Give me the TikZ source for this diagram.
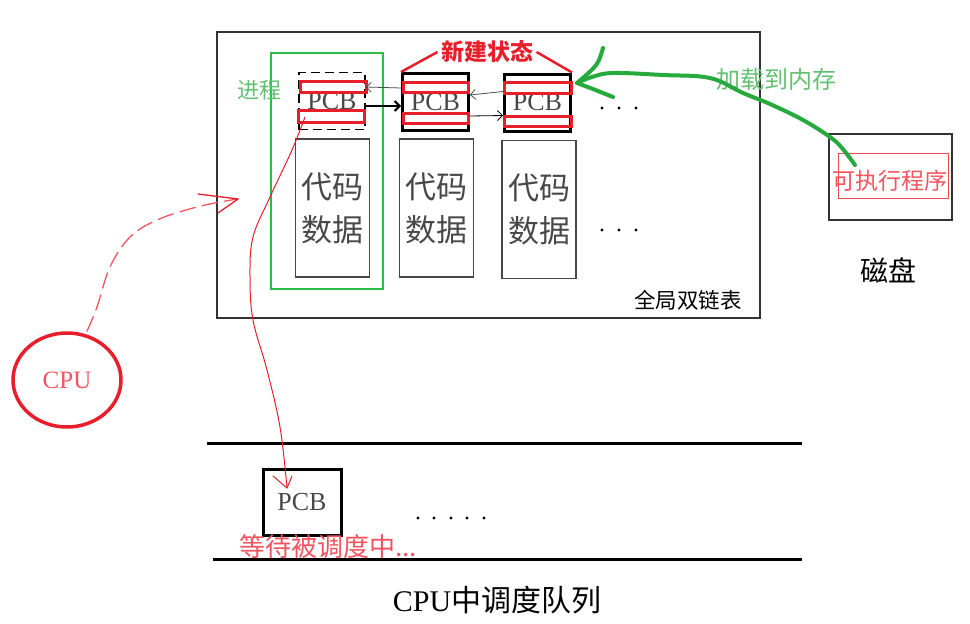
\documentclass[tikz,border=0pt]{standalone}
\usepackage{fontspec}
\setmainfont{Liberation Serif}
\newfontfamily\cjk{Noto Sans CJK SC}
\usetikzlibrary{positioning, calc, arrows.meta, shapes.geometric}
\definecolor{penred}{RGB}{232,30,42}
\definecolor{softred}{RGB}{242,84,96}
\definecolor{pengreen}{RGB}{38,170,62}
\definecolor{framegreen}{RGB}{40,190,70}
\definecolor{softgreen}{RGB}{98,192,112}
\definecolor{inkgray}{RGB}{72,72,72}

\begin{document}
\begin{tikzpicture}[x=1pt, y=-1pt,
  pcbbox/.style={draw=black, line width=3pt, minimum width=66pt, minimum height=57pt, inner sep=0pt, font=\fontsize{26}{26}\selectfont, text=inkgray},
  databox/.style={draw=inkgray, line width=1.2pt, minimum width=74pt, minimum height=138pt, inner sep=0pt, align=center, font=\cjk\fontsize{31}{43}\selectfont, text=inkgray},
  redbar/.style={draw=penred, line width=3pt},
  handred/.style={draw=penred, line width=1pt, line cap=round, line join=round},
  dot/.style={fill=black, circle, inner sep=0pt, minimum size=3.4pt}]
  \useasboundingbox (0,0) rectangle (970,624);

  % memory and the process frame
  \draw[black!80, line width=1.2pt] (217,32) rectangle (760,318);
  \draw[framegreen, line width=1.1pt] (271,53) rectangle (383,289);
  \node[text=softgreen, font=\cjk\fontsize{22}{22}\selectfont] (proc) at (259,90) {进程};
  \node[font=\cjk\fontsize{21.5}{22}\selectfont] (dlist) at (688,300) {全局双链表};

  % PCBs and their code/data
  \node[pcbbox, dashed, line width=1.5pt, dash pattern=on 9pt off 5pt] (pcb1) at (332,101) {PCB};
  \node[pcbbox] (pcb2) at (435.5,102) {PCB};
  \node[pcbbox] (pcb3) at (537.5,102.5) {PCB};
  \node[databox] (data1) at (332.5,208) {代码\\数据};
  \node[databox] (data2) at (436.5,208) {代码\\数据};
  \node[databox] (data3) at (539,209.5) {代码\\数据};
  \draw[redbar] (300,81) rectangle (366,92) (298,110) rectangle (364,122);
  \draw[redbar] (403,82) rectangle (468,92) (403,113) rectangle (468,123);
  \draw[redbar] (504,82) rectangle (571,93) (504,116) rectangle (571,126);

  % links between the PCBs
  \draw[-{Straight Barb[length=5pt]}, black!70, line width=0.8pt] ([yshift=14pt]pcb2.west) -- ([yshift=14pt]pcb1.east);
  \draw[-{Straight Barb[length=5pt]}, black, line width=2pt] ([yshift=-5pt]pcb1.east) -- ([yshift=-4pt]pcb2.west);
  \draw[-{Straight Barb[length=5pt]}, black!70, line width=0.8pt] ([yshift=11pt]pcb3.west) -- ([yshift=7pt]pcb2.east);
  \draw[-{Straight Barb[length=5pt]}, black, line width=0.8pt] ([yshift=-14pt]pcb2.east) -- ([yshift=-13pt]pcb3.west);

  \node[text=penred, font=\cjk\bfseries\fontsize{23}{23}\selectfont] (newstate) at (487,52) {新建状态};
  \draw[penred, line width=2.5pt] (newstate.west) -- (pcb2.north west);
  \draw[penred, line width=2.5pt] (newstate.east) -- (pcb3.north east);

  \foreach \x in {602,619,636}{
    \node[dot] at (\x,108) {};
    \node[dot] at (\x,230) {};
  }

  % disk
  \draw[black!80, line width=1.2pt] (829,134) rectangle (952,220);
  \draw[penred!80, line width=0.8pt] (838,153) rectangle (948,198);
  \node[text=softred, font=\cjk\fontsize{23}{23}\selectfont] (exe) at (890,181) {可执行程序};
  \node[font=\cjk\fontsize{28}{28}\selectfont] (disk) at (888,270) {磁盘};
  \node[text=softgreen, font=\cjk\fontsize{24}{24}\selectfont] (load) at (776,79) {加载到内存};

  % load arrow
  \coordinate (gtail) at (855,165);
  \coordinate (gtip) at (577,83);
  \draw[pengreen, line width=4pt, line cap=round, line join=round]
    plot[smooth, tension=0.6] coordinates {(gtail) (842,148) (830,137) (803,120) (770,104) (743,93) (710,78) (663,75) (613,73) (592,77) (gtip)};
  \draw[pengreen, line width=4pt, line cap=round, line join=round]
    (603,48) .. controls (598,65) .. (gtip) -- (593,89) .. controls (603,93) .. (613,97);

  % CPU
  \node[draw=penred, ellipse, line width=3.5pt, minimum width=108pt, minimum height=94pt, text=softred, font=\fontsize{25}{25}\selectfont] (cpu) at (67,380) {CPU};
  \coordinate (ctip) at (238,199);
  \draw[handred, softred, line width=1.3pt, dash pattern=on 16pt off 7pt]
    plot[smooth, tension=0.6] coordinates {([xshift=20pt]cpu.north) (97,307) (110,267) (130,237) (157,220) (193,208) (220,202) (ctip)};
  \draw[handred, line width=1.3pt] (198,194) -- (ctip) -- (218,213);

  % run queue
  \draw[black, line width=3pt] (207,443) -- (802,443);
  \draw[black, line width=3pt] (213,559) -- (802,559);
  \node[pcbbox, minimum width=78pt, minimum height=66pt] (qpcb) at (302,502) {PCB};
  \foreach \x in {418,434,451,467,484}{
    \node[dot] at (\x,518) {};
  }
  \node[text=softred, font=\cjk\fontsize{26}{26}\selectfont] (wait) at (328,547) {等待被调度中...};
  \node[font=\fontsize{30}{30}\selectfont] (queue) at (497,600) {CPU\cjk 中调度队列};

  % PCB goes into the queue
  \coordinate (qtip) at (287,488);
  \draw[handred] plot[smooth, tension=0.6] coordinates {(305,117) (292,150) (270,197) (253,237) (250,277) (253,320) (267,370) (280,427) (qtip)};
  \draw[handred] (273,476) -- (qtip) -- (292,476);
\end{tikzpicture}
\end{document}
